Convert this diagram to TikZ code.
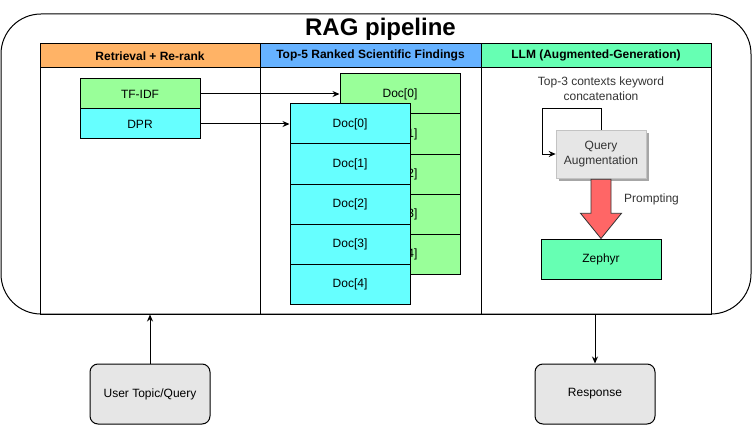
\documentclass[tikz,border=0pt]{standalone}
\usepackage{fontspec}
\setmainfont{Liberation Sans}
\usetikzlibrary{arrows.meta,calc}
\definecolor{hOrange}{HTML}{FFB366}
\definecolor{hBlue}{HTML}{66B2FF}
\definecolor{hGreen}{HTML}{66FFB3}
\definecolor{lGreen}{HTML}{99FF99}
\definecolor{lCyan}{HTML}{66FFFF}
\definecolor{redArrow}{HTML}{FF6666}
\definecolor{boxGray}{HTML}{E6E6E6}
\definecolor{txtGray}{HTML}{333333}
\tikzset{
  base/.style={draw=black, line width=1pt, inner sep=0pt, align=center, font=\fontsize{12}{15}\selectfont},
  hdr/.style={base, minimum height=23.5pt, font=\fontsize{12}{15}\selectfont\bfseries},
  lane/.style={draw=black, line width=1pt, inner sep=0pt},
  doc/.style={base, minimum width=120pt, minimum height=40pt},
  greendoc/.style={doc, fill=lGreen},
  cyandoc/.style={doc, fill=lCyan},
  endbox/.style={base, fill=boxGray, rounded corners=8pt, minimum width=120pt, minimum height=60pt},
  conn/.style={line width=1pt, -{Stealth[length=7pt,width=6pt]}},
  plain/.style={inner sep=0pt, align=center, font=\fontsize{12}{15}\selectfont},
}
\begin{document}
\begin{tikzpicture}[x=1pt,y=-1pt]
\useasboundingbox (0,0) rectangle (752,425);
% outer container
\node[draw=black, line width=1pt, rounded corners=40pt, minimum width=750pt, minimum height=300pt, inner sep=0pt] (outer) at (376,164) {};
\node[inner sep=0pt, font=\fontsize{24}{28}\selectfont\bfseries] (title) at (380.5,29) {RAG pipeline};
% lanes
\node[hdr, fill=hOrange, minimum width=220pt] (h1) at (150,55.75) {Retrieval + Re-rank};
\node[hdr, fill=hBlue, minimum width=221pt] (h2) at (370.5,55.75) {Top-5 Ranked Scientific Findings};
\node[hdr, fill=hGreen, minimum width=230pt] (h3) at (596,55.75) {LLM (Augmented-Generation)};
\node[lane, minimum width=220pt, minimum height=246.5pt] (l1) at (150,190.75) {};
\node[lane, minimum width=221pt, minimum height=246.5pt] (l2) at (370.5,190.75) {};
\node[lane, minimum width=230pt, minimum height=246.5pt] (l3) at (596,190.75) {};
% retrieval
\node[base, fill=lGreen, minimum width=120pt, minimum height=30pt] (tfidf) at (140,94) {TF-IDF};
\node[base, fill=lCyan, minimum width=120pt, minimum height=30pt] (dpr) at (140,124) {DPR};
% green docs
\foreach \i in {0,...,4} {
  \node[greendoc] (g\i) at (400,{94+40*\i}) {Doc[\i]};
}
% cyan docs
\foreach \i in {0,...,4} {
  \node[cyandoc] (c\i) at (350,{124+40*\i}) {Doc[\i]};
}
\draw[conn] (tfidf.east) -- (g0.west);
\draw[conn] (dpr.east) -- (c0.west);
% LLM lane
\node[plain, text=txtGray] (kw) at (601,89) {Top-3 contexts keyword\\concatenation};
\fill[gray!70] (559,133) rectangle (649,181);
\node[base, draw=boxGray!85!black, line width=0.6pt, fill=boxGray, minimum width=90pt, minimum height=48pt, text=txtGray] (qa) at (601,154) {Query\\Augmentation};
\coordinate (lpA) at (601,109);
\coordinate (lpB) at (542,109);
\draw[conn] (qa.north) -- (lpA) -- (lpB) |- (qa.west);
\node[base, fill=hGreen, minimum width=120pt, minimum height=40pt] (zeph) at (601,259) {Zephyr};
\draw[line width=0.8pt, fill=redArrow, draw=black!80]
  ($(qa.south)+(-10,1)$) -- ($(qa.south)+(10,1)$) -- ($(qa.south)+(10,35)$) -- ($(qa.south)+(20.5,35)$)
  -- (zeph.north) -- ($(qa.south)+(-20.5,35)$) -- ($(qa.south)+(-10,35)$) -- cycle;
\node[plain, anchor=west, text=txtGray] (prompt) at (624,199) {Prompting};
% external
\node[endbox] (user) at (150,394) {User Topic/Query};
\node[endbox] (resp) at (595,394) {Response};
\draw[conn] (user.north) -- (user.north |- outer.south);
\draw[conn] (resp.north |- outer.south) -- (resp.north);
\end{tikzpicture}
\end{document}
